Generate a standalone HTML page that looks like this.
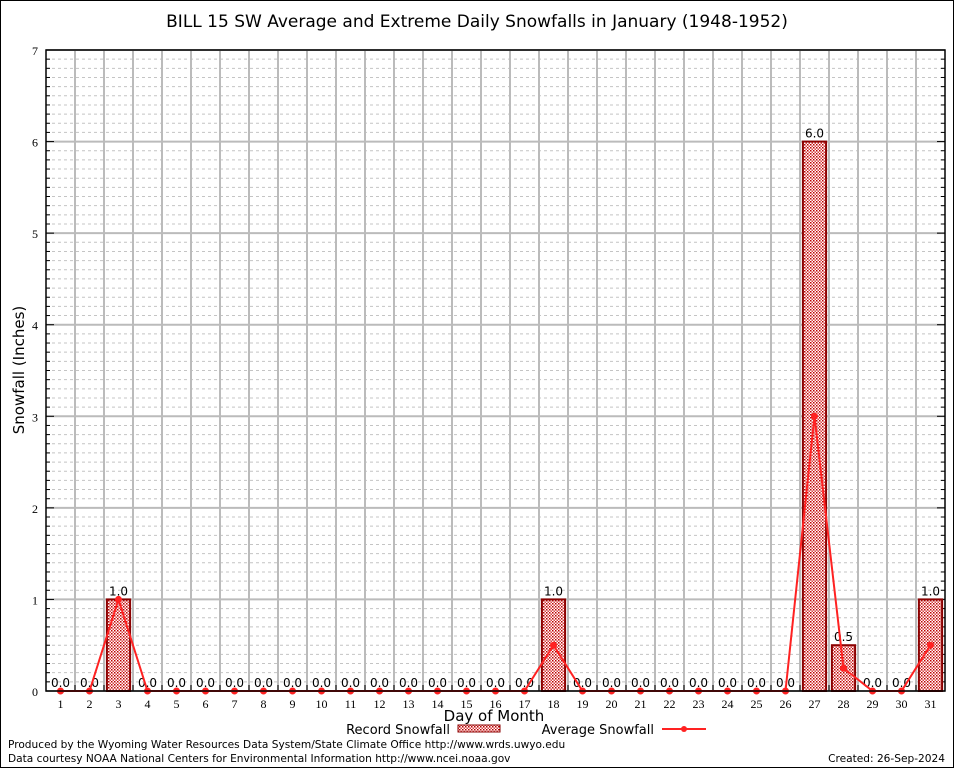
<!DOCTYPE html>
<html><head><meta charset="utf-8"><style>
body{margin:0;background:#fff}
svg{display:block;font-family:"DejaVu Sans","Liberation Sans",sans-serif}
</style></head><body>
<svg id="c" width="954" height="768" viewBox="0 0 954 768">
<defs><pattern id="chk" width="3" height="3" patternUnits="userSpaceOnUse"><rect width="3" height="3" fill="#fff"/><rect width="1.5" height="1.5" fill="#b00"/><rect x="1.5" y="1.5" width="1.5" height="1.5" fill="#d44"/></pattern></defs>
<rect x="0.5" y="0.5" width="953" height="767" fill="#fff" stroke="#000"/>
<text x="477" y="27" text-anchor="middle" font-size="17" fill="#000">BILL 15 SW Average and Extreme Daily Snowfalls in January (1948-1952)</text>
<g id="grid"></g><g id="marks"></g>
<text x="24" y="370" transform="rotate(-90 24 370)" text-anchor="middle" font-size="15">Snowfall (Inches)</text>
<text x="494" y="721" text-anchor="middle" font-size="15">Day of Month</text>
<g>
<text x="450" y="734" text-anchor="end" font-size="13">Record Snowfall</text>
<rect x="458" y="725" width="42" height="7" fill="url(#chk)" stroke="#8b0000"/>
<text x="654" y="734" text-anchor="end" font-size="13">Average Snowfall</text>
<line x1="662" y1="729" x2="706" y2="729" stroke="#f22" stroke-width="2"/>
<circle cx="684" cy="729" r="3" fill="#f22"/>
</g>
<text x="8" y="748" font-size="10.6">Produced by the Wyoming Water Resources Data System/State Climate Office http://www.wrds.uwyo.edu</text>
<text x="8" y="762" font-size="10.6">Data courtesy NOAA National Centers for Environmental Information http://www.ncei.noaa.gov</text>
<text x="945" y="762" text-anchor="end" font-size="10.6">Created:  26-Sep-2024</text>
</svg>
<script>
const days=[1,2,3,4,5,6,7,8,9,10,11,12,13,14,15,16,17,18,19,20,21,22,23,24,25,26,27,28,29,30,31];
const record=[0,0,1,0,0,0,0,0,0,0,0,0,0,0,0,0,0,1,0,0,0,0,0,0,0,0,6,0.5,0,0,1];
const average=[0,0,1,0,0,0,0,0,0,0,0,0,0,0,0,0,0,0.5,0,0,0,0,0,0,0,0,3,0.25,0,0,0.5];
const yTicks=[0,1,2,3,4,5,6,7];
const NS="http://www.w3.org/2000/svg";
const L=46,R=945,T=50,B=691,YMAX=7;
const x=d=>L+(d-0.5)*(R-L)/31;
const y=v=>B-v*(B-T)/YMAX;
function mk(p,tag,a,txt){const e=document.createElementNS(NS,tag);for(const k in a)e.setAttribute(k,a[k]);if(txt!==undefined)e.textContent=txt;p.appendChild(e);return e;}
const g=document.getElementById('grid'),m=document.getElementById('marks');
for(let i=1;i<YMAX*10;i++){if(i%10===0)continue;const l=mk(g,'line',{x1:L,x2:R,y1:y(i/10),y2:y(i/10),stroke:'#c4c4c4','stroke-dasharray':'3,3'});


mk(g,'line',{x1:L,x2:L+4,y1:y(i/10),y2:y(i/10),stroke:'#000'});mk(g,'line',{x1:R-4,x2:R,y1:y(i/10),y2:y(i/10),stroke:'#000'});}
yTicks.forEach(t=>{const l=mk(g,'line',{x1:L,x2:R,y1:y(t),y2:y(t),stroke:'#bbb','stroke-width':2});


mk(g,'line',{x1:L,x2:L+8,y1:y(t),y2:y(t),stroke:'#000'});mk(g,'line',{x1:R-8,x2:R,y1:y(t),y2:y(t),stroke:'#000'});
const tx=mk(g,'text',{x:L-8,y:y(t)+5,'text-anchor':'end','font-size':12,'font-family':'Liberation Serif,serif'},String(t));

});
for(let i=1;i<31;i++){const xx=x(i+0.5);const l=mk(g,'line',{x1:xx,x2:xx,y1:T,y2:B,stroke:'#bbb','stroke-width':2});


mk(g,'line',{x1:xx,x2:xx,y1:B-6,y2:B,stroke:'#000'});}
days.forEach((d,i)=>{const tx=mk(g,'text',{x:x(d),y:B+17,'text-anchor':'middle','font-size':12,'font-family':'Liberation Serif,serif'},String(d));

});
const bw=(R-L)/31*0.8;
days.forEach((d,i)=>{const v=record[i];
if(v>0){const r=mk(m,'rect',{x:x(d)-bw/2,y:y(v),width:bw,height:y(0)-y(v),fill:'url(#chk)',stroke:'#8b0000','stroke-width':2});

}
const t=mk(m,'text',{x:x(d),y:y(v)-4,'text-anchor':'middle','font-size':12},v.toFixed(1));

});
const pl=mk(m,'polyline',{points:days.map((d,i)=>x(d)+','+y(average[i])).join(' '),fill:'none',stroke:'#f22','stroke-width':2});


days.forEach((d,i)=>{const c=mk(m,'circle',{cx:x(d),cy:y(average[i]),r:3.5,fill:'#f22'});

});
const f=mk(m,'rect',{x:L,y:T,width:R-L,height:B-T,fill:'none',stroke:'#000','stroke-width':1.5});


</script>
</body></html>
